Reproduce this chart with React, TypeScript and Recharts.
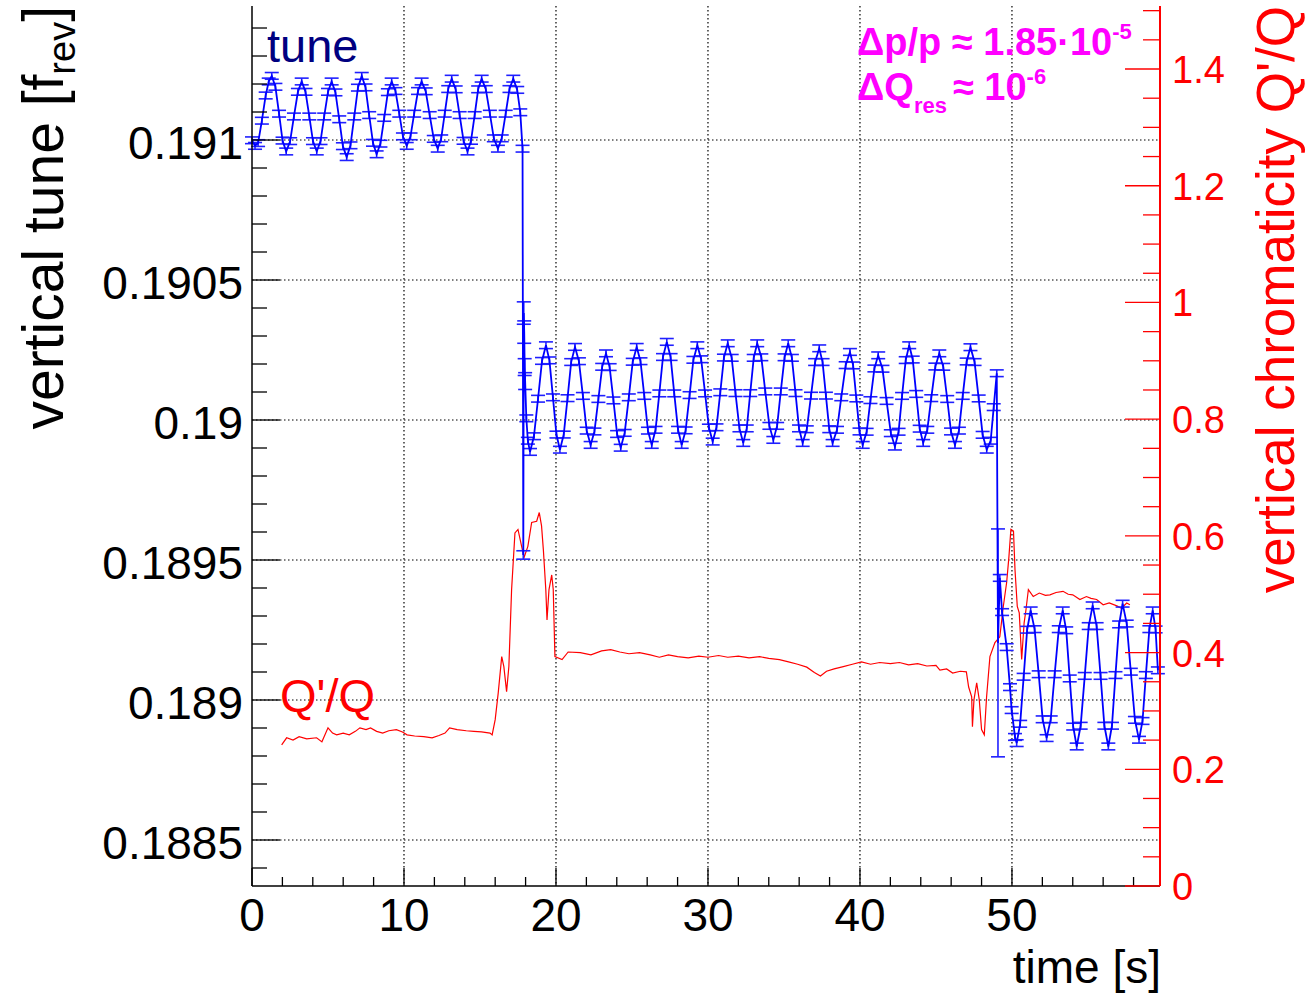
import React from 'react';
import { ComposedChart, Line, XAxis, YAxis, ErrorBar, CartesianGrid, Customized } from 'recharts';

const FONT = '"Liberation Sans", Arial, Helvetica, sans-serif';

// ---------- axis ticks ----------
const timeTicks = [0, 2, 4, 6, 8, 10, 12, 14, 16, 18, 20, 22, 24, 26, 28, 30, 32, 34, 36, 38, 40, 42, 44, 46, 48, 50, 52, 54, 56, 58];
const timeGrid = [10, 20, 30, 40, 50];
const tuneTicks = [
  0.1884, 0.1885, 0.1886, 0.1887, 0.1888, 0.1889, 0.189, 0.1891, 0.1892, 0.1893, 0.1894,
  0.1895, 0.1896, 0.1897, 0.1898, 0.1899, 0.19, 0.1901, 0.1902, 0.1903, 0.1904, 0.1905,
  0.1906, 0.1907, 0.1908, 0.1909, 0.191, 0.1911, 0.1912, 0.1913, 0.1914,
];
const tuneGrid = [0.1885, 0.189, 0.1895, 0.19, 0.1905, 0.191];
const chromaTicks = [
  0, 0.05, 0.1, 0.15, 0.2, 0.25, 0.3, 0.35, 0.4, 0.45, 0.5, 0.55, 0.6, 0.65, 0.7, 0.75,
  0.8, 0.85, 0.9, 0.95, 1, 1.05, 1.1, 1.15, 1.2, 1.25, 1.3, 1.35, 1.4, 1.45, 1.5,
];
const TIME_DOMAIN = [0, 59.74];
const TUNE_DOMAIN = [0.1883357, 0.1914786];
const CHROMA_DOMAIN = [0, 1.508];

// ---------- tune series [time s, tune] ----------
const tuneBefore: [number, number][] = [
  [0.0, 0.190999], [0.2, 0.190979], [0.4, 0.190989], [0.65, 0.191069], [0.9, 0.191159], [1.1, 0.191209], [1.3, 0.191229],
  [1.54, 0.19119], [1.78, 0.191094], [2.01, 0.190998], [2.25, 0.190959],
  [2.51, 0.190996], [2.76, 0.191084], [3.02, 0.191172], [3.27, 0.191209],
  [3.52, 0.191172], [3.77, 0.191084], [4.01, 0.190996], [4.26, 0.190959],
  [4.51, 0.190996], [4.75, 0.191084], [5.0, 0.191172], [5.24, 0.191209],
  [5.49, 0.19117], [5.74, 0.191074], [5.98, 0.190978], [6.23, 0.190939],
  [6.48, 0.190981], [6.73, 0.191084], [6.97, 0.191187], [7.22, 0.191229],
  [7.47, 0.191188], [7.71, 0.191089], [7.96, 0.19099], [8.2, 0.190949],
  [8.45, 0.190987], [8.7, 0.191079], [8.94, 0.191171], [9.19, 0.191209],
  [9.44, 0.191175], [9.69, 0.191094], [9.93, 0.191013], [10.18, 0.190979],
  [10.43, 0.191013], [10.67, 0.191094], [10.92, 0.191175], [11.16, 0.191209],
  [11.43, 0.191174], [11.69, 0.191089], [11.96, 0.191004], [12.22, 0.190969],
  [12.45, 0.191006], [12.68, 0.191094], [12.91, 0.191182], [13.14, 0.191219],
  [13.4, 0.191181], [13.66, 0.191089], [13.92, 0.190997], [14.18, 0.190959],
  [14.41, 0.190997], [14.65, 0.191089], [14.88, 0.191181], [15.11, 0.191219],
  [15.38, 0.191182], [15.65, 0.191094], [15.91, 0.191006], [16.18, 0.190969],
  [16.43, 0.191006], [16.69, 0.191094], [16.94, 0.191182], [17.19, 0.191219],
  [17.45, 0.191179], [17.65, 0.191099], [17.8, 0.190969],
];
const tuneMiddle: [number, number][] = [
  [17.85, 0.189518], [17.88, 0.190382], [17.91, 0.190314], [17.94, 0.190189], [17.97, 0.190139], [18.05, 0.190006], [18.15, 0.189926], [18.29, 0.189886],
  [18.55, 0.189942], [18.82, 0.190076], [19.08, 0.190211], [19.34, 0.190267],
  [19.57, 0.190213], [19.8, 0.190081], [20.03, 0.189948], [20.26, 0.189894],
  [20.51, 0.189948], [20.76, 0.190078], [21.0, 0.190207], [21.25, 0.190261],
  [21.51, 0.19021], [21.77, 0.190086], [22.02, 0.189962], [22.28, 0.189911],
  [22.53, 0.189959], [22.79, 0.190075], [23.04, 0.19019], [23.29, 0.190238],
  [23.53, 0.190189], [23.78, 0.19007], [24.02, 0.18995], [24.26, 0.189901],
  [24.52, 0.189954], [24.79, 0.190081], [25.05, 0.190208], [25.31, 0.190261],
  [25.56, 0.19021], [25.81, 0.190086], [26.05, 0.189962], [26.3, 0.189911],
  [26.55, 0.189965], [26.8, 0.190095], [27.04, 0.190225], [27.29, 0.190279],
  [27.54, 0.190225], [27.78, 0.190095], [28.03, 0.189965], [28.27, 0.189911],
  [28.53, 0.189963], [28.79, 0.190089], [29.04, 0.190215], [29.3, 0.190267],
  [29.55, 0.190217], [29.81, 0.190095], [30.06, 0.189973], [30.31, 0.189923],
  [30.56, 0.189974], [30.81, 0.190099], [31.05, 0.190223], [31.3, 0.190274],
  [31.56, 0.190222], [31.81, 0.190096], [32.07, 0.18997], [32.32, 0.189918],
  [32.55, 0.18997], [32.78, 0.190096], [33.01, 0.190222], [33.24, 0.190274],
  [33.51, 0.190224], [33.77, 0.190102], [34.04, 0.189979], [34.3, 0.189929],
  [34.55, 0.189979], [34.79, 0.190102], [35.04, 0.190224], [35.28, 0.190274],
  [35.52, 0.190222], [35.76, 0.190096], [35.99, 0.18997], [36.23, 0.189918],
  [36.5, 0.189967], [36.78, 0.190087], [37.05, 0.190207], [37.32, 0.190256],
  [37.54, 0.190207], [37.76, 0.190087], [37.98, 0.189967], [38.2, 0.189918],
  [38.49, 0.189965], [38.77, 0.190081], [39.06, 0.190196], [39.34, 0.190243],
  [39.55, 0.190195], [39.76, 0.190077], [39.97, 0.189959], [40.18, 0.189911],
  [40.44, 0.189958], [40.69, 0.190071], [40.95, 0.190184], [41.2, 0.190231],
  [41.48, 0.190183], [41.75, 0.190068], [42.03, 0.189953], [42.3, 0.189905],
  [42.54, 0.189958], [42.77, 0.190086], [43.01, 0.190214], [43.24, 0.190267],
  [43.47, 0.190216], [43.7, 0.190093], [43.93, 0.189969], [44.16, 0.189918],
  [44.43, 0.189965], [44.69, 0.190078], [44.96, 0.190191], [45.22, 0.190238],
  [45.48, 0.19019], [45.74, 0.190075], [45.99, 0.189959], [46.25, 0.189911],
  [46.51, 0.189962], [46.76, 0.190086], [47.02, 0.190209], [47.27, 0.19026],
  [47.54, 0.190207], [47.81, 0.190077], [48.07, 0.189947], [48.34, 0.189894],
  [48.6, 0.189926], [48.8, 0.190046], [49.0, 0.190167],
];
const tuneAfter: [number, number][] = [
  [49.08, 0.189204], [49.2, 0.189436], [49.35, 0.189314], [49.65, 0.189189], [49.87, 0.189046], [49.98, 0.188964], [50.2, 0.188868], [50.31, 0.188846],
  [50.54, 0.188915], [50.77, 0.189083], [51.0, 0.189251], [51.23, 0.18932],
  [51.49, 0.189253], [51.76, 0.189092], [52.02, 0.188931], [52.28, 0.188864],
  [52.55, 0.188931], [52.81, 0.189092], [53.08, 0.189253], [53.34, 0.18932],
  [53.57, 0.189249], [53.8, 0.189077], [54.03, 0.188905], [54.26, 0.188834],
  [54.52, 0.188908], [54.79, 0.189086], [55.05, 0.189264], [55.31, 0.189338],
  [55.57, 0.189264], [55.83, 0.189086], [56.08, 0.188908], [56.34, 0.188834],
  [56.58, 0.188908], [56.81, 0.189089], [57.05, 0.18927], [57.28, 0.189344],
  [57.55, 0.189273], [57.82, 0.189101], [58.09, 0.188929], [58.36, 0.188858],
  [58.59, 0.188925], [58.81, 0.189089], [59.04, 0.189253], [59.26, 0.18932],
  [59.45, 0.189252], [59.6, 0.189106],
];
const TUNE_ERR = 0.000012;
const tuneLargeErrors: [number, number][] = [
  [17.85, 0.000015], [17.88, 0.00004], [17.91, 0.00004], [17.94, 0.00003], [17.97, 0.00003], [49.08, 0.000407],
];

// ---------- chromaticity series [time s, Q'/Q] ----------
const chromaPoints: [number, number][] = [
  [1.95, 0.242], [2.28, 0.254], [2.7, 0.25], [3.1, 0.256], [3.6, 0.252], [4.25, 0.254], [4.6, 0.247], [5.0, 0.271],
  [5.3, 0.262], [5.57, 0.259], [6.0, 0.262], [6.4, 0.259], [6.8, 0.265], [7.1, 0.271], [7.5, 0.268], [7.8, 0.271],
  [8.2, 0.265], [8.6, 0.262], [9.0, 0.266], [9.5, 0.268], [9.9, 0.264], [10.2, 0.259], [10.7, 0.257], [11.3, 0.256],
  [11.85, 0.254], [12.3, 0.258], [12.7, 0.262], [13.0, 0.271], [13.5, 0.268], [14.1, 0.266], [14.6, 0.265], [15.1, 0.264],
  [15.66, 0.262], [15.8, 0.259], [16.0, 0.285], [16.2, 0.331], [16.43, 0.393], [16.57, 0.376], [16.75, 0.333], [16.9, 0.376],
  [17.08, 0.508], [17.3, 0.605], [17.5, 0.611], [17.74, 0.582], [17.9, 0.563], [18.15, 0.582], [18.4, 0.623], [18.73, 0.625],
  [18.9, 0.64], [19.05, 0.617], [19.17, 0.576], [19.33, 0.508], [19.41, 0.456], [19.54, 0.508], [19.72, 0.533], [19.82, 0.508],
  [19.93, 0.393], [20.4, 0.388], [20.8, 0.401], [21.6, 0.4], [22.3, 0.396], [23.0, 0.403], [23.6, 0.405], [24.2, 0.401],
  [24.8, 0.398], [25.5, 0.4], [26.2, 0.396], [26.8, 0.392], [27.4, 0.396], [28.0, 0.393], [28.7, 0.391], [29.4, 0.394],
  [30.0, 0.392], [30.7, 0.395], [31.3, 0.392], [32.0, 0.394], [32.7, 0.391], [33.4, 0.393], [34.0, 0.39], [34.7, 0.388],
  [35.3, 0.384], [35.9, 0.38], [36.5, 0.375], [37.0, 0.366], [37.4, 0.36], [37.8, 0.368], [38.3, 0.372], [38.9, 0.376],
  [39.5, 0.38], [40.1, 0.384], [40.7, 0.38], [41.3, 0.383], [42.0, 0.381], [42.6, 0.383], [43.2, 0.379], [43.8, 0.381],
  [44.4, 0.377], [45.0, 0.378], [45.26, 0.37], [45.7, 0.372], [46.1, 0.365], [46.6, 0.368], [47.0, 0.367], [47.15, 0.341],
  [47.35, 0.324], [47.4, 0.273], [47.5, 0.319], [47.68, 0.348], [47.85, 0.319], [48.0, 0.268], [48.18, 0.259], [48.33, 0.324],
  [48.55, 0.393], [48.88, 0.417], [49.2, 0.427], [49.43, 0.479], [49.65, 0.52], [49.8, 0.564], [49.93, 0.611], [50.1, 0.608],
  [50.2, 0.542], [50.35, 0.479], [50.48, 0.468], [50.64, 0.388], [50.8, 0.451], [50.92, 0.473], [51.08, 0.508], [51.4, 0.496],
  [51.8, 0.502], [52.2, 0.498], [52.5, 0.499], [52.9, 0.503], [53.36, 0.505], [53.7, 0.5], [54.0, 0.499], [54.47, 0.491],
  [54.9, 0.496], [55.2, 0.493], [55.57, 0.491], [56.0, 0.482], [56.4, 0.485], [56.9, 0.48], [57.2, 0.476], [57.55, 0.485],
  [57.76, 0.482],
];

// ---------- tables for recharts ----------
const largeErr = new Map(tuneLargeErrors.map(([t, e]) => [t, e]));
const tuneData = [...tuneBefore, ...tuneMiddle, ...tuneAfter].map(([t, v]) => ({
  t,
  v,
  e: largeErr.has(t) ? largeErr.get(t) : TUNE_ERR,
}));
const chromaData = chromaPoints.map(([t, q]) => ({ t, q }));

const fmt = (v: number, digits: number) => String(parseFloat(v.toFixed(digits)));

// ---------- tick renderers (ticks drawn inside the frame, ROOT style) ----------
const BottomTick = (props: any) => {
  const { x, y, payload } = props;
  const major = Math.round(payload.value) % 10 === 0;
  return (
    <g>
      <line x1={x} x2={x} y1={y} y2={y - (major ? 18 : 9)} stroke="#000" strokeWidth={1.3} />
      {major && (
        <text x={x} y={y + 45} textAnchor="middle" fontSize={46} fontFamily={FONT} fill="#000">
          {fmt(payload.value, 0)}
        </text>
      )}
    </g>
  );
};

const TopTick = (props: any) => {
  const { x, y, payload } = props;
  const major = Math.round(payload.value) % 10 === 0;
  return <line x1={x} x2={x} y1={y} y2={y + (major ? 18 : 9)} stroke="#000" strokeWidth={1.3} />;
};

const LeftTick = (props: any) => {
  const { x, y, payload } = props;
  const major = Math.round(payload.value * 10000) % 5 === 0;
  return (
    <g>
      <line x1={x} x2={x + (major ? 28 : 15)} y1={y} y2={y} stroke="#000" strokeWidth={1.3} />
      {major && (
        <text x={x - 9} y={y + 19} textAnchor="end" fontSize={46} fontFamily={FONT} fill="#000">
          {fmt(payload.value, 4)}
        </text>
      )}
    </g>
  );
};

const RightTick = (props: any) => {
  const { x, y, payload } = props;
  const major = Math.round(payload.value * 100) % 20 === 0;
  return (
    <g>
      <line x1={x} x2={x - (major ? 35 : 17)} y1={y} y2={y} stroke="#ff0000" strokeWidth={1.3} />
      {major && (
        <text x={x + 12} y={y + 14} textAnchor="start" fontSize={38} fontFamily={FONT} fill="#ff0000">
          {fmt(payload.value, 2)}
        </text>
      )}
    </g>
  );
};

// ---------- text annotations ----------
const Annotations = () => (
  <g fontFamily={FONT}>
    <text x={267} y={62} fontSize={47} fill="#000080">tune</text>
    <text x={280} y={712} fontSize={47} fill="#ff0000">Q'/Q</text>
    <text x={857} y={55} fontSize={38} fontWeight="bold" fill="#ff00ff">
      Δp/p ≈ 1.85·10<tspan dy={-16} fontSize={22}>-5</tspan>
    </text>
    <text x={857} y={100} fontSize={38} fontWeight="bold" fill="#ff00ff">
      ΔQ<tspan dy={13} fontSize={22}>res</tspan>
      <tspan dy={-13} dx={6}>≈ 10</tspan>
      <tspan dy={-16} fontSize={22}>-6</tspan>
    </text>
    <text transform="translate(63, 6) rotate(-90)" textAnchor="end" fontSize={57} fill="#000">
      vertical tune [f<tspan dy={12} fontSize={38}>rev</tspan><tspan dy={-12}>]</tspan>
    </text>
    <text transform="translate(1294, 6) rotate(-90)" textAnchor="end" fontSize={53} fill="#ff0000">
      vertical chromaticity Q'/Q
    </text>
    <text x={1161} y={983} textAnchor="end" fontSize={46} fill="#000">time [s]</text>
  </g>
);

export default function App() {
  return (
    <div style={{ position: 'absolute', left: 0, top: 0, width: 1307, height: 994, background: '#fff' }}>
      <ComposedChart width={1307} height={994} margin={{ top: 6, right: 0, bottom: 0, left: 0 }}>
        <CartesianGrid
          xAxisId="time"
          yAxisId="tune"
          horizontalValues={tuneGrid}
          verticalValues={timeGrid}
          stroke="#000"
          strokeDasharray="1.5 2.5"
          strokeWidth={1.2}
        />
        <XAxis
          xAxisId="time"
          type="number"
          dataKey="t"
          domain={TIME_DOMAIN}
          ticks={timeTicks}
          interval={0}
          tickSize={0}
          tickMargin={0}
          tickLine={false}
          tick={BottomTick}
          axisLine={{ stroke: '#000', strokeWidth: 1.5 }}
          height={108}
          allowDataOverflow
        />
        <XAxis
          xAxisId="top"
          orientation="top"
          type="number"
          dataKey="t"
          domain={TIME_DOMAIN}
          ticks={timeTicks}
          interval={0}
          tickSize={0}
          tickMargin={0}
          tickLine={false}
          tick={TopTick}
          axisLine={{ stroke: '#000', strokeWidth: 1.5 }}
          height={0}
          allowDataOverflow
        />
        <YAxis
          yAxisId="tune"
          type="number"
          domain={TUNE_DOMAIN}
          ticks={tuneTicks}
          interval={0}
          tickSize={0}
          tickMargin={0}
          tickLine={false}
          tick={LeftTick}
          axisLine={{ stroke: '#000', strokeWidth: 1.5 }}
          width={252}
          allowDataOverflow
        />
        <YAxis
          yAxisId="chroma"
          orientation="right"
          type="number"
          domain={CHROMA_DOMAIN}
          ticks={chromaTicks}
          interval={0}
          tickSize={0}
          tickMargin={0}
          tickLine={false}
          tick={RightTick}
          axisLine={{ stroke: '#ff0000', strokeWidth: 2 }}
          width={147}
          allowDataOverflow
        />
        <Line
          xAxisId="time"
          yAxisId="chroma"
          data={chromaData}
          dataKey="q"
          type="linear"
          stroke="#ff0000"
          strokeWidth={1.2}
          dot={false}
          isAnimationActive={false}
        />
        <Line
          xAxisId="time"
          yAxisId="tune"
          data={tuneData}
          dataKey="v"
          type="linear"
          stroke="#0000ff"
          strokeWidth={1.8}
          dot={false}
          isAnimationActive={false}
        >
          <ErrorBar dataKey="e" width={7} stroke="#2020ff" strokeWidth={1.6} direction="y" isAnimationActive={false} />
        </Line>
        <Customized component={Annotations} />
      </ComposedChart>
    </div>
  );
}
